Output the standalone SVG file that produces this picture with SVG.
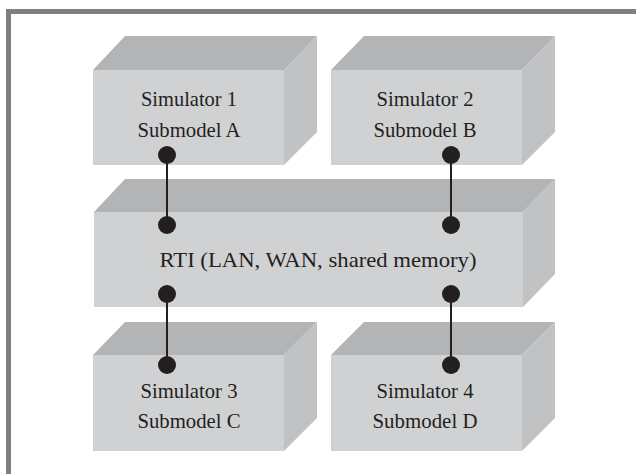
<svg xmlns="http://www.w3.org/2000/svg" width="636" height="474" viewBox="0 0 636 474">
<style>
.front{fill:#d0d1d3}
.top{fill:#b3b4b6}
.side{fill:#c1c2c4}
.lbl{font-family:"Liberation Serif","Times New Roman",serif;font-size:22px;fill:#231f20;text-anchor:middle}
.wire{stroke:#231f20;stroke-width:2;fill:none}
.dot{fill:#231f20}
</style>
<rect x="0" y="0" width="636" height="474" fill="#ffffff"/>
<rect x="8.5" y="11.5" width="660" height="500" fill="none" stroke="#808080" stroke-width="5"/>
<g id="sim1">
<polygon class="top" points="93,70 125,36 317,36 284,70"/>
<polygon class="side" points="284,70 317,36 317,132 284,165"/>
<rect class="front" x="93" y="70" width="191" height="95"/>
<text class="lbl" x="189" y="106" textLength="96" lengthAdjust="spacingAndGlyphs">Simulator 1</text>
<text class="lbl" x="189" y="137" textLength="103" lengthAdjust="spacingAndGlyphs">Submodel A</text>
</g>
<g id="sim2">
<polygon class="top" points="331,70 364,36 555,36 522,70"/>
<polygon class="side" points="522,70 555,36 555,132 522,165"/>
<rect class="front" x="331" y="70" width="191" height="95"/>
<text class="lbl" x="425" y="106" textLength="97" lengthAdjust="spacingAndGlyphs">Simulator 2</text>
<text class="lbl" x="425" y="137" textLength="103" lengthAdjust="spacingAndGlyphs">Submodel B</text>
</g>
<g id="rti">
<polygon class="top" points="94,212 125,179 555,179 523,212"/>
<polygon class="side" points="523,212 555,179 555,274 523,307"/>
<rect class="front" x="94" y="212" width="429" height="95"/>
<text class="lbl" x="318" y="267" textLength="317" lengthAdjust="spacingAndGlyphs">RTI (LAN, WAN, shared memory)</text>
</g>
<g id="sim3">
<polygon class="top" points="93,355 125,322 317,322 284,355"/>
<polygon class="side" points="284,355 317,322 317,418 284,451"/>
<rect class="front" x="93" y="355" width="191" height="96"/>
<text class="lbl" x="189" y="398" textLength="97" lengthAdjust="spacingAndGlyphs">Simulator 3</text>
<text class="lbl" x="189" y="428" textLength="103" lengthAdjust="spacingAndGlyphs">Submodel C</text>
</g>
<g id="sim4">
<polygon class="top" points="331,355 364,322 555,322 522,355"/>
<polygon class="side" points="522,355 555,322 555,418 522,451"/>
<rect class="front" x="331" y="355" width="191" height="96"/>
<text class="lbl" x="425" y="398" textLength="97" lengthAdjust="spacingAndGlyphs">Simulator 4</text>
<text class="lbl" x="425" y="428" textLength="105" lengthAdjust="spacingAndGlyphs">Submodel D</text>
</g>
<g id="connectors">
<line class="wire" x1="167" y1="155" x2="167" y2="225"/>
<line class="wire" x1="451" y1="155" x2="451" y2="225"/>
<line class="wire" x1="167" y1="294" x2="167" y2="365"/>
<line class="wire" x1="451" y1="294" x2="451" y2="365"/>
<circle class="dot" cx="167" cy="155" r="9"/>
<circle class="dot" cx="167" cy="225" r="9"/>
<circle class="dot" cx="451" cy="155" r="9"/>
<circle class="dot" cx="451" cy="225" r="9"/>
<circle class="dot" cx="167" cy="294" r="9"/>
<circle class="dot" cx="167" cy="365" r="9"/>
<circle class="dot" cx="451" cy="294" r="9"/>
<circle class="dot" cx="451" cy="365" r="9"/>
</g>
</svg>
